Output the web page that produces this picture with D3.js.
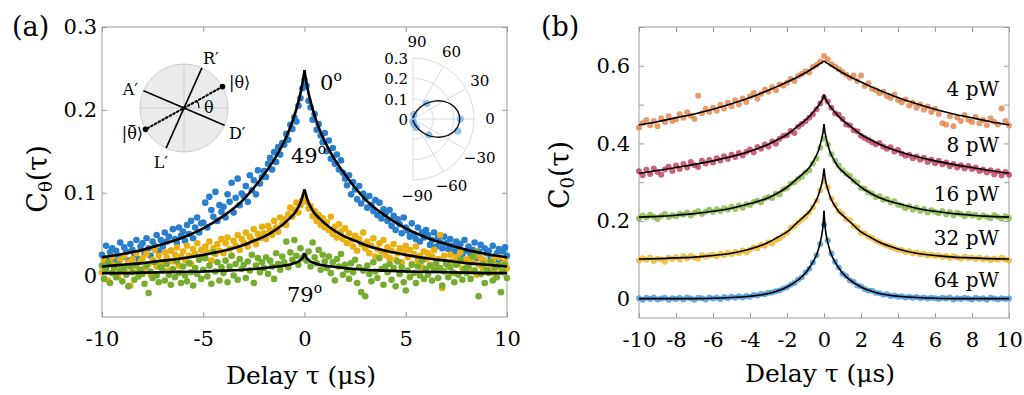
<!DOCTYPE html>
<html><head><meta charset="utf-8">
<script src="https://cdn.jsdelivr.net/npm/d3@7"></script>
<style>
body{margin:0;background:#fff}
svg{display:block}
text{font-family:"DejaVu Serif",serif;fill:#000}
</style>
</head><body>
<svg id="c" width="1024" height="395"></svg>
<script>
// ---------------- DATA ----------------
// Panel (a): delay grid -10..10 us, step 0.1
const tauA = d3.range(-100, 101).map(i => i / 10);
const xTicksA = [-10, -5, 0, 5, 10];
const yTicksA = [0, 0.1, 0.2, 0.3];
const angleLabelsA = ["0", "49", "79"];

const blueA = [.025,.021,.036,.019,.028,.033,.017,.030,.024,.040,
.022,.034,.029,.018,.038,.031,.026,.043,.020,.035,
.039,.028,.045,.033,.024,.041,.036,.049,.030,.043,
.035,.052,.041,.047,.030,.056,.044,.039,.058,.048,
.053,.042,.061,.050,.066,.045,.058,.070,.052,.063,
.064,.088,.058,.095,.079,.071,.101,.066,.085,.077,
.083,.070,.098,.089,.112,.076,.094,.117,.085,.099,
.096,.108,.089,.121,.103,.115,.098,.127,.111,.119,
.126,.119,.135,.142,.128,.149,.137,.155,.146,.160,
.158,.171,.164,.182,.177,.191,.186,.205,.214,.226,
.236,
.229,.211,.203,.188,.195,.176,.183,.169,.161,.172,
.150,.163,.141,.154,.135,.146,.128,.139,.124,.117,
.109,.121,.098,.113,.104,.092,.108,.087,.099,.093,
.082,.096,.085,.078,.091,.073,.088,.069,.080,.075,
.066,.079,.060,.072,.055,.068,.062,.051,.070,.058,
.054,.047,.063,.050,.044,.058,.041,.052,.046,.055,
.049,.037,.043,.052,.035,.046,.040,.033,.047,.039,
.032,.044,.036,.029,.041,.034,.038,.026,.043,.030,
.035,.024,.031,.040,.021,.029,.037,.019,.033,.027,
.030,.022,.036,.018,.027,.032,.016,.029,.034,.024];

const yellowA = [.004,.018,.011,-.006,.015,.022,.008,.013,-.002,.019,
.010,.024,.003,.016,-.012,.020,.012,.027,.007,.017,
.021,.009,.026,.014,.001,.019,.031,.011,.024,.016,
.013,.028,.022,.006,.030,.017,.025,.034,.012,.023,
.029,.019,.036,.024,.014,.032,.026,.039,.020,.031,
.022,.035,.028,.041,.018,.033,.026,.038,.030,.044,
.027,.039,.046,.032,.024,.042,.036,.049,.031,.044,
.040,.052,.035,.047,.043,.056,.038,.050,.045,.059,
.051,.044,.060,.055,.049,.066,.058,.053,.070,.062,
.068,.061,.074,.082,.071,.079,.088,.076,.085,.091,
.096,
.089,.081,.084,.072,.078,.066,.073,.061,.069,.058,
.064,.055,.071,.050,.059,.046,.062,.053,.044,.057,
.039,.051,.043,.035,.048,.030,.044,.038,.052,.033,
.041,.027,.036,.045,.023,.032,.039,.029,.043,.025,
.034,.021,.030,.038,.019,.027,.033,.016,.029,.036,
.022,.031,.014,.026,.035,.018,.024,.010,.029,.020,
.027,.013,.023,.031,.009,.020,.049,-.015,.024,.016,
.011,.025,.017,.003,.022,.014,.028,.008,.019,.012,
.020,.006,.016,.024,.001,.013,.021,.009,.018,.004,
.015,.007,.019,.002,.012,.022,.005,.014,.017,.009];

const greenA = [.012,-.004,.008,.015,-.009,.003,.010,-.002,.014,.006,
-.007,.009,.001,-.013,.011,.004,-.005,.013,-.001,.007,
.002,-.010,.012,-.021,.005,-.003,.016,.000,-.008,.010,
.006,-.006,.014,.001,-.011,.008,-.002,.017,.003,-.009,
.011,.000,-.007,.015,.004,-.012,.009,.002,.019,-.004,
.007,.021,-.001,.012,-.010,.028,.005,.016,-.006,.010,
.003,.018,-.008,.011,.024,.000,.014,-.005,.020,.008,
.013,-.003,.017,.006,.025,-.009,.012,.021,.004,.016,
.009,.022,.002,.018,.011,-.004,.027,.014,.007,.023,
.016,.041,.010,.028,.019,.043,.024,.013,.033,.021,
.024,
.018,.029,.011,.040,.022,.015,.031,.007,.025,.017,
.009,.023,.003,.016,-.006,.020,.011,.026,.001,.013,
.007,-.004,.015,.004,.019,-.009,.010,-.020,.006,-.025,
.012,.002,-.007,.016,.005,-.003,.021,.008,-.011,.011,
.004,.014,-.005,.009,-.013,.017,.002,.010,-.008,-.018,
.006,-.002,.013,.003,-.009,.011,.000,.018,-.004,.008,
.001,.012,-.006,.007,.015,-.003,.009,-.012,.005,.014,
-.002,.010,.004,-.008,.013,.001,.019,-.005,.008,.003,
.011,-.004,.023,.006,.029,-.025,.002,.014,-.009,.007,
.003,.016,-.006,.009,-.002,.012,-.020,.005,.013,-.003];

// fit curves (a): values at |tau| knots (symmetric fit)
const fitKnotsA = [0, 0.1, 0.2, 0.3, 0.5, 0.7, 1, 1.5, 2, 2.5, 3, 4, 5, 6, 7, 8, 9, 10];
const fitBlueA   = [0.248,0.232,0.220,0.210,0.193,0.179,0.162,0.140,0.122,0.106,0.092,0.072,0.057,0.046,0.038,0.031,0.026,0.022];
const fitYellowA = [0.104,0.095,0.088,0.083,0.075,0.070,0.063,0.054,0.047,0.042,0.037,0.030,0.025,0.021,0.018,0.015,0.013,0.011];
const fitGreenA  = [0.027,0.021,0.019,0.017,0.015,0.0135,0.012,0.0105,0.009,0.008,0.007,0.006,0.005,0.0045,0.004,0.0035,0.003,0.003];

// polar inset
const polarPointAngles = [0, -15, 49, -45, -68, -80, 79, -90];
const polarPointR      = [0.233, 0.228, 0.102, 0.110, 0.045, 0.025, 0.022, 0.012];
const polarFitAngles = [-90,-80,-70,-60,-50,-40,-30,-20,-10,0,10,20,30,40,50,60,70,80,90];
const polarFitR      = [0.005,0.012,0.031,0.061,0.098,0.137,0.174,0.204,0.223,0.230,0.223,0.204,0.174,0.137,0.098,0.061,0.031,0.012,0.005];
const polarAngleTicks = [90, 60, 30, 0, -30, -60, -90];
const polarRTicks = [0, 0.1, 0.2, 0.3];

// Panel (b): delay grid -10..10 us, step 0.2
const tauB = d3.range(-50, 51).map(i => i / 5);
const xTicksB = [-10, -8, -6, -4, -2, 0, 2, 4, 6, 8, 10];
const yTicksB = [0, 0.1, 0.2, 0.3, 0.4, 0.5, 0.6, 0.7];
const yLabelsB = [0, 0.2, 0.4, 0.6];
const powerLabels = ["4 pW", "8 pW", "16 pW", "32 pW", "64 pW"];

const p4 = [.441,.452,.460,.447,.458,.444,.465,.455,.470,.458,
.462,.475,.466,.480,.471,.463,.523,.478,.489,.481,
.492,.484,.499,.490,.505,.496,.511,.500,.516,.507,
.521,.530,.515,.528,.539,.533,.545,.537,.552,.549,
.556,.566,.561,.574,.579,.586,.583,.597,.602,.611,
.625,
.617,.604,.598,.591,.584,.577,.569,.575,.561,.575,
.548,.555,.541,.537,.529,.533,.522,.517,.526,.512,
.506,.513,.498,.505,.492,.500,.487,.495,.481,.489,
.476,.452,.448,.470,.444,.467,.458,.473,.461,.455,
.468,.452,.460,.447,.465,.456,.449,.490,.458,.446];

const p8 = [.328,.318,.332,.321,.335,.326,.319,.333,.340,.329,
.343,.334,.347,.338,.352,.344,.339,.355,.348,.357,
.351,.362,.356,.367,.360,.371,.365,.375,.369,.378,
.384,.377,.391,.386,.397,.392,.405,.399,.412,.419,
.421,.432,.427,.443,.450,.457,.466,.475,.488,.503,
.518,
.508,.492,.478,.474,.463,.449,.446,.434,.431,.420,
.414,.409,.403,.398,.401,.392,.386,.390,.379,.383,
.374,.368,.371,.362,.366,.358,.363,.352,.358,.349,
.355,.346,.351,.341,.347,.338,.344,.335,.342,.334,
.338,.329,.333,.325,.331,.320,.328,.317,.326,.319];

const p16 = [.207,.214,.209,.216,.211,.205,.213,.218,.210,.215,
.212,.219,.216,.222,.214,.221,.226,.218,.224,.229,
.223,.230,.226,.233,.229,.237,.231,.240,.234,.243,
.241,.249,.252,.248,.258,.262,.259,.270,.268,.281,
.285,.296,.300,.309,.314,.325,.331,.348,.361,.389,
.412,
.398,.372,.355,.343,.331,.322,.316,.304,.299,.285,
.283,.274,.270,.262,.264,.255,.257,.248,.251,.242,
.240,.233,.238,.229,.234,.226,.231,.222,.228,.224,
.220,.226,.217,.223,.214,.221,.218,.212,.219,.214,
.216,.209,.214,.211,.207,.215,.210,.206,.212,.208];

const p32 = [.098,.104,.100,.106,.097,.103,.101,.095,.105,.102,
.107,.101,.109,.104,.110,.106,.103,.112,.108,.111,
.113,.109,.116,.112,.118,.115,.121,.117,.124,.119,
.126,.132,.130,.138,.136,.145,.142,.151,.155,.163,
.170,.182,.187,.196,.204,.211,.222,.235,.252,.279,
.302,
.287,.258,.242,.226,.218,.205,.201,.188,.183,.170,
.168,.160,.156,.149,.145,.140,.137,.133,.130,.126,
.125,.120,.122,.117,.119,.114,.116,.111,.113,.110,
.112,.107,.110,.105,.109,.106,.103,.108,.104,.106,
.102,.106,.101,.104,.099,.103,.100,.105,.101,.098];

const p64 = [.001,-.003,.002,-.001,.003,-.002,.000,.002,-.003,.001,
-.001,.002,-.002,.003,.000,-.003,.002,.001,-.002,.003,
.000,.003,-.001,.004,.001,.005,.002,.006,.003,.007,
.005,.009,.008,.012,.011,.015,.016,.019,.021,.026,
.029,.036,.040,.049,.055,.067,.077,.093,.112,.141,
.190,
.150,.116,.095,.080,.064,.058,.047,.043,.034,.031,
.025,.021,.020,.015,.014,.010,.011,.007,.008,.005,
.006,.003,.005,.002,.004,.001,.003,.000,.002,.001,
-.001,.002,.000,.003,-.002,.001,-.001,.002,.000,-.002,
.002,-.001,.001,-.003,.002,.000,-.002,.001,-.001,.000];

const fitKnotsB = [0, 0.05, 0.1, 0.2, 0.3, 0.4, 0.6, 0.8, 1, 1.4, 2, 2.5, 3, 4, 5, 6, 7, 8, 9, 10];
const fit4  = [0.613,0.611,0.609,0.606,0.603,0.600,0.594,0.588,0.582,0.572,0.558,0.547,0.537,0.518,0.502,0.488,0.476,0.466,0.456,0.448];
const fit8  = [0.526,0.518,0.512,0.505,0.497,0.491,0.480,0.469,0.460,0.445,0.423,0.410,0.398,0.380,0.366,0.355,0.346,0.338,0.330,0.323];
const fit16 = [0.450,0.430,0.418,0.398,0.382,0.370,0.352,0.337,0.328,0.311,0.287,0.272,0.260,0.245,0.233,0.225,0.219,0.215,0.212,0.210];
const fit32 = [0.335,0.315,0.300,0.283,0.267,0.255,0.238,0.224,0.215,0.198,0.172,0.158,0.145,0.128,0.117,0.111,0.107,0.105,0.103,0.102];
const fit64 = [0.226,0.190,0.170,0.145,0.127,0.113,0.094,0.079,0.066,0.048,0.030,0.020,0.013,0.006,0.003,0.001,0.000,0.000,0.000,0.000];

// ---------------- DRAWING ----------------
const svg = d3.select('#c');
const FONT = '"DejaVu Serif", serif';
const FRAME = '#9b9b9b';

const xA = d3.scaleLinear([-10, 10], [102, 507]);
const yA = d3.scaleLinear([-0.05, 0.3], [317, 27]);
const xB = d3.scaleLinear([-10, 10], [639, 1009]);
const yB = d3.scaleLinear([-0.05, 0.7], [318, 27]);

function fmt(d) { return d === 0 ? '0' : String(d); }

function drawAxes(x, y, xTicks, yTicks, yLabelSet, padY) {
  const [x0, x1] = x.range(), [y0, y1] = y.range();
  const style = g => {
    g.select('.domain').remove();
    g.attr('font-family', FONT).attr('font-size', 21);
    g.selectAll('line').attr('stroke', FRAME);
    g.selectAll('text').attr('fill', '#000');
  };
  svg.append('g').attr('transform', `translate(0,${y0})`)
    .call(d3.axisBottom(x).tickValues(xTicks).tickSizeInner(-5).tickSizeOuter(0).tickPadding(14).tickFormat(fmt)).call(style);
  svg.append('g').attr('transform', `translate(0,${y1})`)
    .call(d3.axisTop(x).tickValues(xTicks).tickSizeInner(-5).tickSizeOuter(0).tickFormat('')).call(style);
  svg.append('g').attr('transform', `translate(${x0},0)`)
    .call(d3.axisLeft(y).tickValues(yTicks).tickSizeInner(-5).tickSizeOuter(0).tickPadding(padY)
      .tickFormat(d => yLabelSet.some(v => Math.abs(v - d) < 1e-9) ? fmt(d) : '')).call(style);
  svg.append('g').attr('transform', `translate(${x1},0)`)
    .call(d3.axisRight(y).tickValues(yTicks).tickSizeInner(-5).tickSizeOuter(0).tickFormat('')).call(style);
  svg.append('rect').attr('x', x0).attr('y', y1).attr('width', x1 - x0).attr('height', y0 - y1)
    .attr('fill', 'none').attr('stroke', FRAME).attr('stroke-width', 1);
}

function scatter(x, y, tau, vals, color, r, op) {
  svg.append('g').selectAll('circle').data(vals).join('circle')
    .attr('cx', (d, i) => x(tau[i])).attr('cy', d => y(d)).attr('r', r)
    .attr('fill', color).attr('fill-opacity', op);
}

function fit(x, y, knots, vals, width) {
  const right = knots.map((k, i) => [k, vals[i]]);
  const left = knots.map((k, i) => [-k, vals[i]]).reverse();
  const line = d3.line().x(d => x(d[0])).y(d => y(d[1])).curve(d3.curveMonotoneX);
  [left, right].forEach(pts => svg.append('path').attr('d', line(pts))
    .attr('fill', 'none').attr('stroke', '#000').attr('stroke-width', width).attr('stroke-linejoin', 'miter'));
}

// ---- Panel (a)
drawAxes(xA, yA, xTicksA, yTicksA, yTicksA, 5);
scatter(xA, yA, tauA, blueA, '#2a7fcc', 3.3, 1);
scatter(xA, yA, tauA, yellowA, '#e8b010', 3.3, 1);
scatter(xA, yA, tauA, greenA, '#76ad2e', 3.3, 1);
fit(xA, yA, fitKnotsA, fitBlueA, 2.6);
fit(xA, yA, fitKnotsA, fitYellowA, 2.6);
fit(xA, yA, fitKnotsA, fitGreenA, 2.6);

function degLabel(x, y, s) {
  const t = svg.append('text').attr('x', x).attr('y', y).attr('font-size', 21);
  t.append('tspan').text(s);
  t.append('tspan').attr('font-size', 14).attr('dy', -9).text('o');
}
degLabel(320, 90, angleLabelsA[0]);
degLabel(291, 163, angleLabelsA[1]);
degLabel(287, 302, angleLabelsA[2]);

// polar inset
(function () {
  const cx = 413, cy = 119;
  const rs = d3.scaleLinear([0, 0.3], [0, 61]);
  const g = svg.append('g');
  const rad = a => a * Math.PI / 180;
  const arcPath = r => { const p = d3.path(); p.arc(cx, cy, r, -Math.PI / 2, Math.PI / 2, false); return p.toString(); };
  polarRTicks.filter(r => r > 0).forEach(r => g.append('path').attr('d', arcPath(rs(r)))
    .attr('fill', 'none').attr('stroke', '#dcdcdc').attr('stroke-width', 1));
  polarAngleTicks.forEach(a => g.append('line').attr('x1', cx).attr('y1', cy)
    .attr('x2', cx + rs(0.3) * Math.cos(rad(a))).attr('y2', cy - rs(0.3) * Math.sin(rad(a)))
    .attr('stroke', '#dcdcdc').attr('stroke-width', 1));
  polarAngleTicks.forEach(a => {
    const rr = rs(0.3) + 16;
    g.append('text').attr('x', cx + 4 * (a === 90 || a === -90) + rr * Math.cos(rad(a)))
      .attr('y', cy - rr * Math.sin(rad(a)) + 5).attr('text-anchor', 'middle').attr('font-size', 15)
      .text(a < 0 ? '\u2212' + Math.abs(a) : String(a));
  });
  polarRTicks.forEach(r => g.append('text').attr('x', cx - 5).attr('y', cy - rs(r) + 6)
    .attr('text-anchor', 'end').attr('font-size', 15).text(fmt(r)));
  g.selectAll('circle').data(polarPointAngles).join('circle')
    .attr('cx', (a, i) => cx + rs(polarPointR[i]) * Math.cos(rad(a)))
    .attr('cy', (a, i) => cy - rs(polarPointR[i]) * Math.sin(rad(a)))
    .attr('r', 3.6).attr('fill', '#5b9fe0').attr('fill-opacity', 0.65);
  const lr = d3.lineRadial().angle((a, i) => rad(90 - a)).radius((a, i) => rs(polarFitR[i])).curve(d3.curveCardinal);
  g.append('path').attr('transform', `translate(${cx},${cy})`).attr('d', lr(polarFitAngles))
    .attr('fill', 'none').attr('stroke', '#111').attr('stroke-width', 1.4);
})();

// Poincare-style circle diagram
(function () {
  const cx = 184, cy = 108, R = 44;
  const g = svg.append('g');
  const rad = a => a * Math.PI / 180;
  const pt = (a, r) => [cx + r * Math.cos(rad(a)), cy - r * Math.sin(rad(a))];
  g.append('circle').attr('cx', cx).attr('cy', cy).attr('r', R).attr('fill', '#ebebeb').attr('stroke', '#cdcdcd');
  g.append('line').attr('x1', cx - R).attr('x2', cx + R).attr('y1', cy).attr('y2', cy).attr('stroke', '#cfcfcf');
  g.append('line').attr('x1', cx).attr('x2', cx).attr('y1', cy - R).attr('y2', cy + R).attr('stroke', '#cfcfcf');
  const seg = (a1, a2, dash) => {
    const p1 = pt(a1, R), p2 = pt(a2, R);
    g.append('line').attr('x1', p1[0]).attr('y1', p1[1]).attr('x2', p2[0]).attr('y2', p2[1])
      .attr('stroke', '#000').attr('stroke-width', dash ? 2.2 : 1.6)
      .attr('stroke-dasharray', dash ? '1.6,2.6' : null).attr('stroke-linecap', dash ? 'round' : 'butt');
  };
  seg(66, 246, false);
  seg(157, -23, false);
  seg(29, 209, true);
  [29, 209].forEach(a => { const p = pt(a, R); g.append('circle').attr('cx', p[0]).attr('cy', p[1]).attr('r', 2.8).attr('fill', '#000'); });
  g.append('circle').attr('cx', cx).attr('cy', cy).attr('r', 1.8).attr('fill', '#000');
  const p = d3.path(); p.arc(cx, cy, 15, 0, -rad(29), true);
  g.append('path').attr('d', p.toString()).attr('fill', 'none').attr('stroke', '#000').attr('stroke-width', 1.2);
  const lab = (x, y, s, anchor) => g.append('text').attr('x', x).attr('y', y).attr('font-size', 16)
    .attr('text-anchor', anchor || 'start').text(s);
  lab(203, 64, 'R\u2032');
  lab(138, 95, 'A\u2032', 'end');
  lab(229, 88, '|\u03b8\u27e9');
  lab(229, 139, 'D\u2032');
  const tb = lab(143, 139, '|\u03b8\u27e9', 'end');
  // bar over the theta of |theta-bar>
  const ext = tb.node().getExtentOfChar(1);
  g.append('line').attr('x1', ext.x + 1.5).attr('x2', ext.x + ext.width - 1.5)
    .attr('y1', 139 - 13.5).attr('y2', 139 - 13.5).attr('stroke', '#000').attr('stroke-width', 1.1);
  lab(168, 168, 'L\u2032', 'end');
  lab(204, 113, '\u03b8');
})();

// ---- Panel (b)
drawAxes(xB, yB, xTicksB, yTicksB, yLabelsB, 9);
const colB = ['#e07a3a', '#b8304f', '#7cb33a', '#ecb21c', '#3a8fd8'];
[p4, p8, p16, p32, p64].forEach((s, k) => scatter(xB, yB, tauB, s, colB[k], 3, 0.75));
[fit4, fit8, fit16, fit32, fit64].forEach(f => fit(xB, yB, fitKnotsB, f, 1.6));
const powerY = [96, 152, 201, 245, 287];
powerLabels.forEach((s, k) => svg.append('text').attr('x', 999).attr('y', powerY[k])
  .attr('text-anchor', 'end').attr('font-size', 20).text(s));

// ---- titles
function yTitle(x, y, sub) {
  const t = svg.append('text').attr('transform', `translate(${x},${y}) rotate(-90)`)
    .attr('text-anchor', 'middle').attr('font-size', 27);
  t.append('tspan').text('C');
  t.append('tspan').attr('font-size', 18).attr('dy', 5).text(sub);
  t.append('tspan').attr('dy', -5).text('(\u03c4)');
}
yTitle(47, 179, '\u03b8');
yTitle(569, 175, '0');
svg.append('text').attr('x', 301).attr('y', 384).attr('text-anchor', 'middle').attr('font-size', 25).text('Delay \u03c4 (\u03bcs)');
svg.append('text').attr('x', 820).attr('y', 382).attr('text-anchor', 'middle').attr('font-size', 25).text('Delay \u03c4 (\u03bcs)');
svg.append('text').attr('x', 12).attr('y', 36).attr('font-size', 27).text('(a)');
svg.append('text').attr('x', 541).attr('y', 36).attr('font-size', 27).text('(b)');
</script>
</body></html>
